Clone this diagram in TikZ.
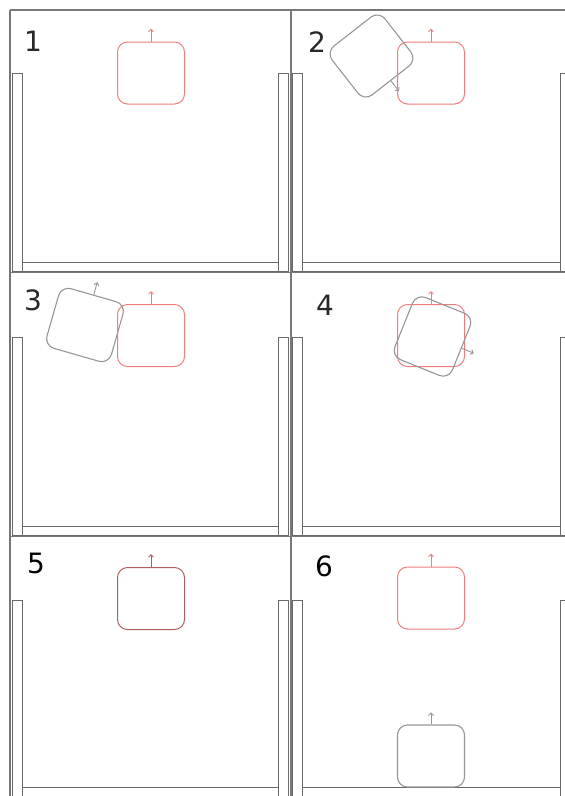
\documentclass[tikz,border=0pt]{standalone}
\usepackage{fontspec}
\setmainfont{DejaVu Sans}
\usetikzlibrary{arrows.meta,calc}
\definecolor{framegray}{RGB}{120,120,120}
\definecolor{wallgray}{RGB}{105,105,105}
\definecolor{boxgray}{RGB}{150,150,150}
\definecolor{boxred}{RGB}{242,125,125}
\definecolor{boxmix}{RGB}{175,95,95}
\definecolor{labelgray}{RGB}{40,40,40}
\tikzset{
 frameline/.style={draw=framegray, line width=1.3pt},
 wall/.style={draw=wallgray, line width=0.7pt},
 sq/.style={rectangle, rounded corners=10pt, minimum width=67pt, minimum height=62pt, inner sep=0pt, line width=1pt},
 redsq/.style={sq, draw=boxred},
 greysq/.style={sq, draw=boxgray, line width=1.1pt},
 mixsq/.style={sq, draw=boxmix},
 arr/.style={-{Straight Barb[length=2.5pt,width=5pt]}, line width=0.9pt},
 steplabel/.style={font=\fontsize{28}{30}\selectfont, text=labelgray, inner sep=0pt},
}
\begin{document}
\begin{tikzpicture}[x=1pt,y=-1pt]
\useasboundingbox (0,0) rectangle (565,796);
\clip (0,0) rectangle (565,796);
\fill[white] (0,0) rectangle (565,796);
% walls and floors
\foreach \T/\F/\B in {73/262/271.5, 337/526/535.5, 600/787/800}{
  \draw[wall] (12.5,\T) rectangle (22.5,\B);
  \draw[wall] (278,\T) rectangle (288,\B);
  \draw[wall] (22.5,\F) rectangle (278,\B);
  \draw[wall] (292.5,\T) rectangle (302,\B);
  \draw[wall] (560,\T) rectangle (570,\B);
  \draw[wall] (302,\F) rectangle (560,\B);
}
% panel frames
\draw[frameline] (10,10) -- (565,10);
\draw[frameline] (10,272.5) -- (565,272.5);
\draw[frameline] (10,536.5) -- (565,536.5);
\draw[frameline] (10,10) -- (10,796);
\draw[frameline] (291,10) -- (291,796);
% labels
\node[steplabel] (l1) at (33,41) {1};
\node[steplabel] (l2) at (317,42) {2};
\node[steplabel] (l3) at (33,300.5) {3};
\node[steplabel] (l4) at (325,305) {4};
\node[steplabel, text=black] (l5) at (36,563) {5};
\node[steplabel, text=black] (l6) at (324,566) {6};
% panel 1
\node[redsq] (r1) at (151,73) {};
\draw[arr, boxred] (r1.north) -- ($(r1.north)!-13pt!(r1.center)$);
% panel 2
\node[greysq, rotate=-142] (g2) at (371.5,56) {};
\draw[arr, boxgray] (g2.north) -- ($(g2.north)!-13pt!(g2.center)$);
\node[redsq] (r2) at (431,73) {};
\draw[arr, boxred] (r2.north) -- ($(r2.north)!-13pt!(r2.center)$);
% panel 3
\node[greysq, rotate=-16] (g3) at (85,325) {};
\draw[arr, boxgray] (g3.north) -- ($(g3.north)!-13pt!(g3.center)$);
\node[redsq] (r3) at (151,335.5) {};
\draw[arr, boxred] (r3.north) -- ($(r3.north)!-13pt!(r3.center)$);
% panel 4
\node[redsq] (r4) at (431,335.5) {};
\draw[arr, boxred] (r4.north) -- ($(r4.north)!-13pt!(r4.center)$);
\node[greysq, rotate=-112] (g4) at (432.5,336.5) {};
\draw[arr, boxgray] (g4.north) -- ($(g4.north)!-13pt!(g4.center)$);
% panel 5
\node[mixsq] (m5) at (151,598.5) {};
\draw[arr, boxmix] (m5.north) -- ($(m5.north)!-13pt!(m5.center)$);
% panel 6
\node[redsq] (r6) at (431,598) {};
\draw[arr, boxred] (r6.north) -- ($(r6.north)!-13pt!(r6.center)$);
\node[greysq] (g6) at (431,756) {};
\draw[arr, boxgray] (g6.north) -- ($(g6.north)!-12pt!(g6.center)$);
\end{tikzpicture}
\end{document}
